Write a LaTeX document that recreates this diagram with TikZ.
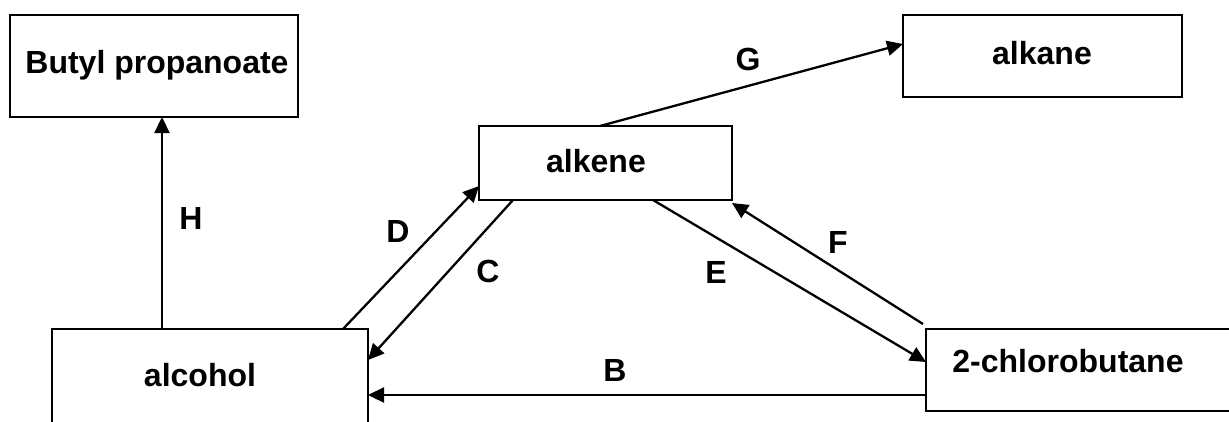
\documentclass[tikz,border=0pt]{standalone}
\usepackage{fontspec}
\setmainfont{Liberation Sans}
\usetikzlibrary{calc,arrows.meta}
\begin{document}
\begin{tikzpicture}[x=1pt,y=-1pt,
  box/.style={draw=black,line width=2.3pt,rectangle,inner sep=0pt,outer sep=0pt,anchor=north west},
  txt/.style={font=\fontsize{32}{36}\selectfont\bfseries,inner sep=0pt,anchor=base},
  conn/.style={line width=2.3pt,-{Triangle[length=16pt,width=15pt]}}]
\useasboundingbox (0,0) rectangle (1229,421);
\fill[white] (0,0) rectangle (1229,421);
% boxes
\node[box,minimum width=288pt,minimum height=102pt] (but) at (10,15) {};
\node[box,minimum width=279pt,minimum height=82pt] (alk) at (903,15) {};
\node[box,minimum width=253pt,minimum height=74pt] (ene) at (479,126) {};
\node[box,minimum width=316pt,minimum height=110pt] (alc) at (52,329) {};
\node[box,minimum width=310pt,minimum height=82pt] (chl) at (926,329) {};
% box texts
\node[txt] (butT) at (157,73) {Butyl propanoate};
\node[txt] (alkT) at (1042,64) {alkane};
\node[txt] (eneT) at (596,172) {alkene};
\node[txt] (alcT) at (200,386) {alcohol};
\node[txt] (chlT) at (1068,372) {2-chlorobutane};
% connectors
\draw[conn] ($(alc.north west)+(110,0)$) -- ($(but.south west)+(152,0)$);
\draw[conn] ($(alc.north west)+(291,0)$) -- ($(ene.north west)+(0,60)$);
\draw[conn] ($(ene.south west)+(34,0)$) -- ($(alc.north east)+(0,31)$);
\draw[conn] ($(ene.south west)+(174,0)$) -- ($(chl.north west)+(0,33)$);
\coordinate (fstart) at ($(chl.north west)+(-3,-5)$);
\draw[conn] (fstart) -- ($(ene.south east)+(0,3)$);
\draw[conn] ($(chl.north west)+(0,66)$) -- ($(alc.north east)+(0,66)$);
\draw[conn] ($(ene.north west)+(121,0)$) -- ($(alk.north west)+(0,29)$);
% labels
\node[txt] (lH) at (191,229) {H};
\node[txt] (lD) at (398,242) {D};
\node[txt] (lC) at (488,282) {C};
\node[txt] (lE) at (716,283) {E};
\node[txt] (lF) at (838,253) {F};
\node[txt] (lG) at (748,70) {G};
\node[txt] (lB) at (615,381) {B};
\end{tikzpicture}
\end{document}
